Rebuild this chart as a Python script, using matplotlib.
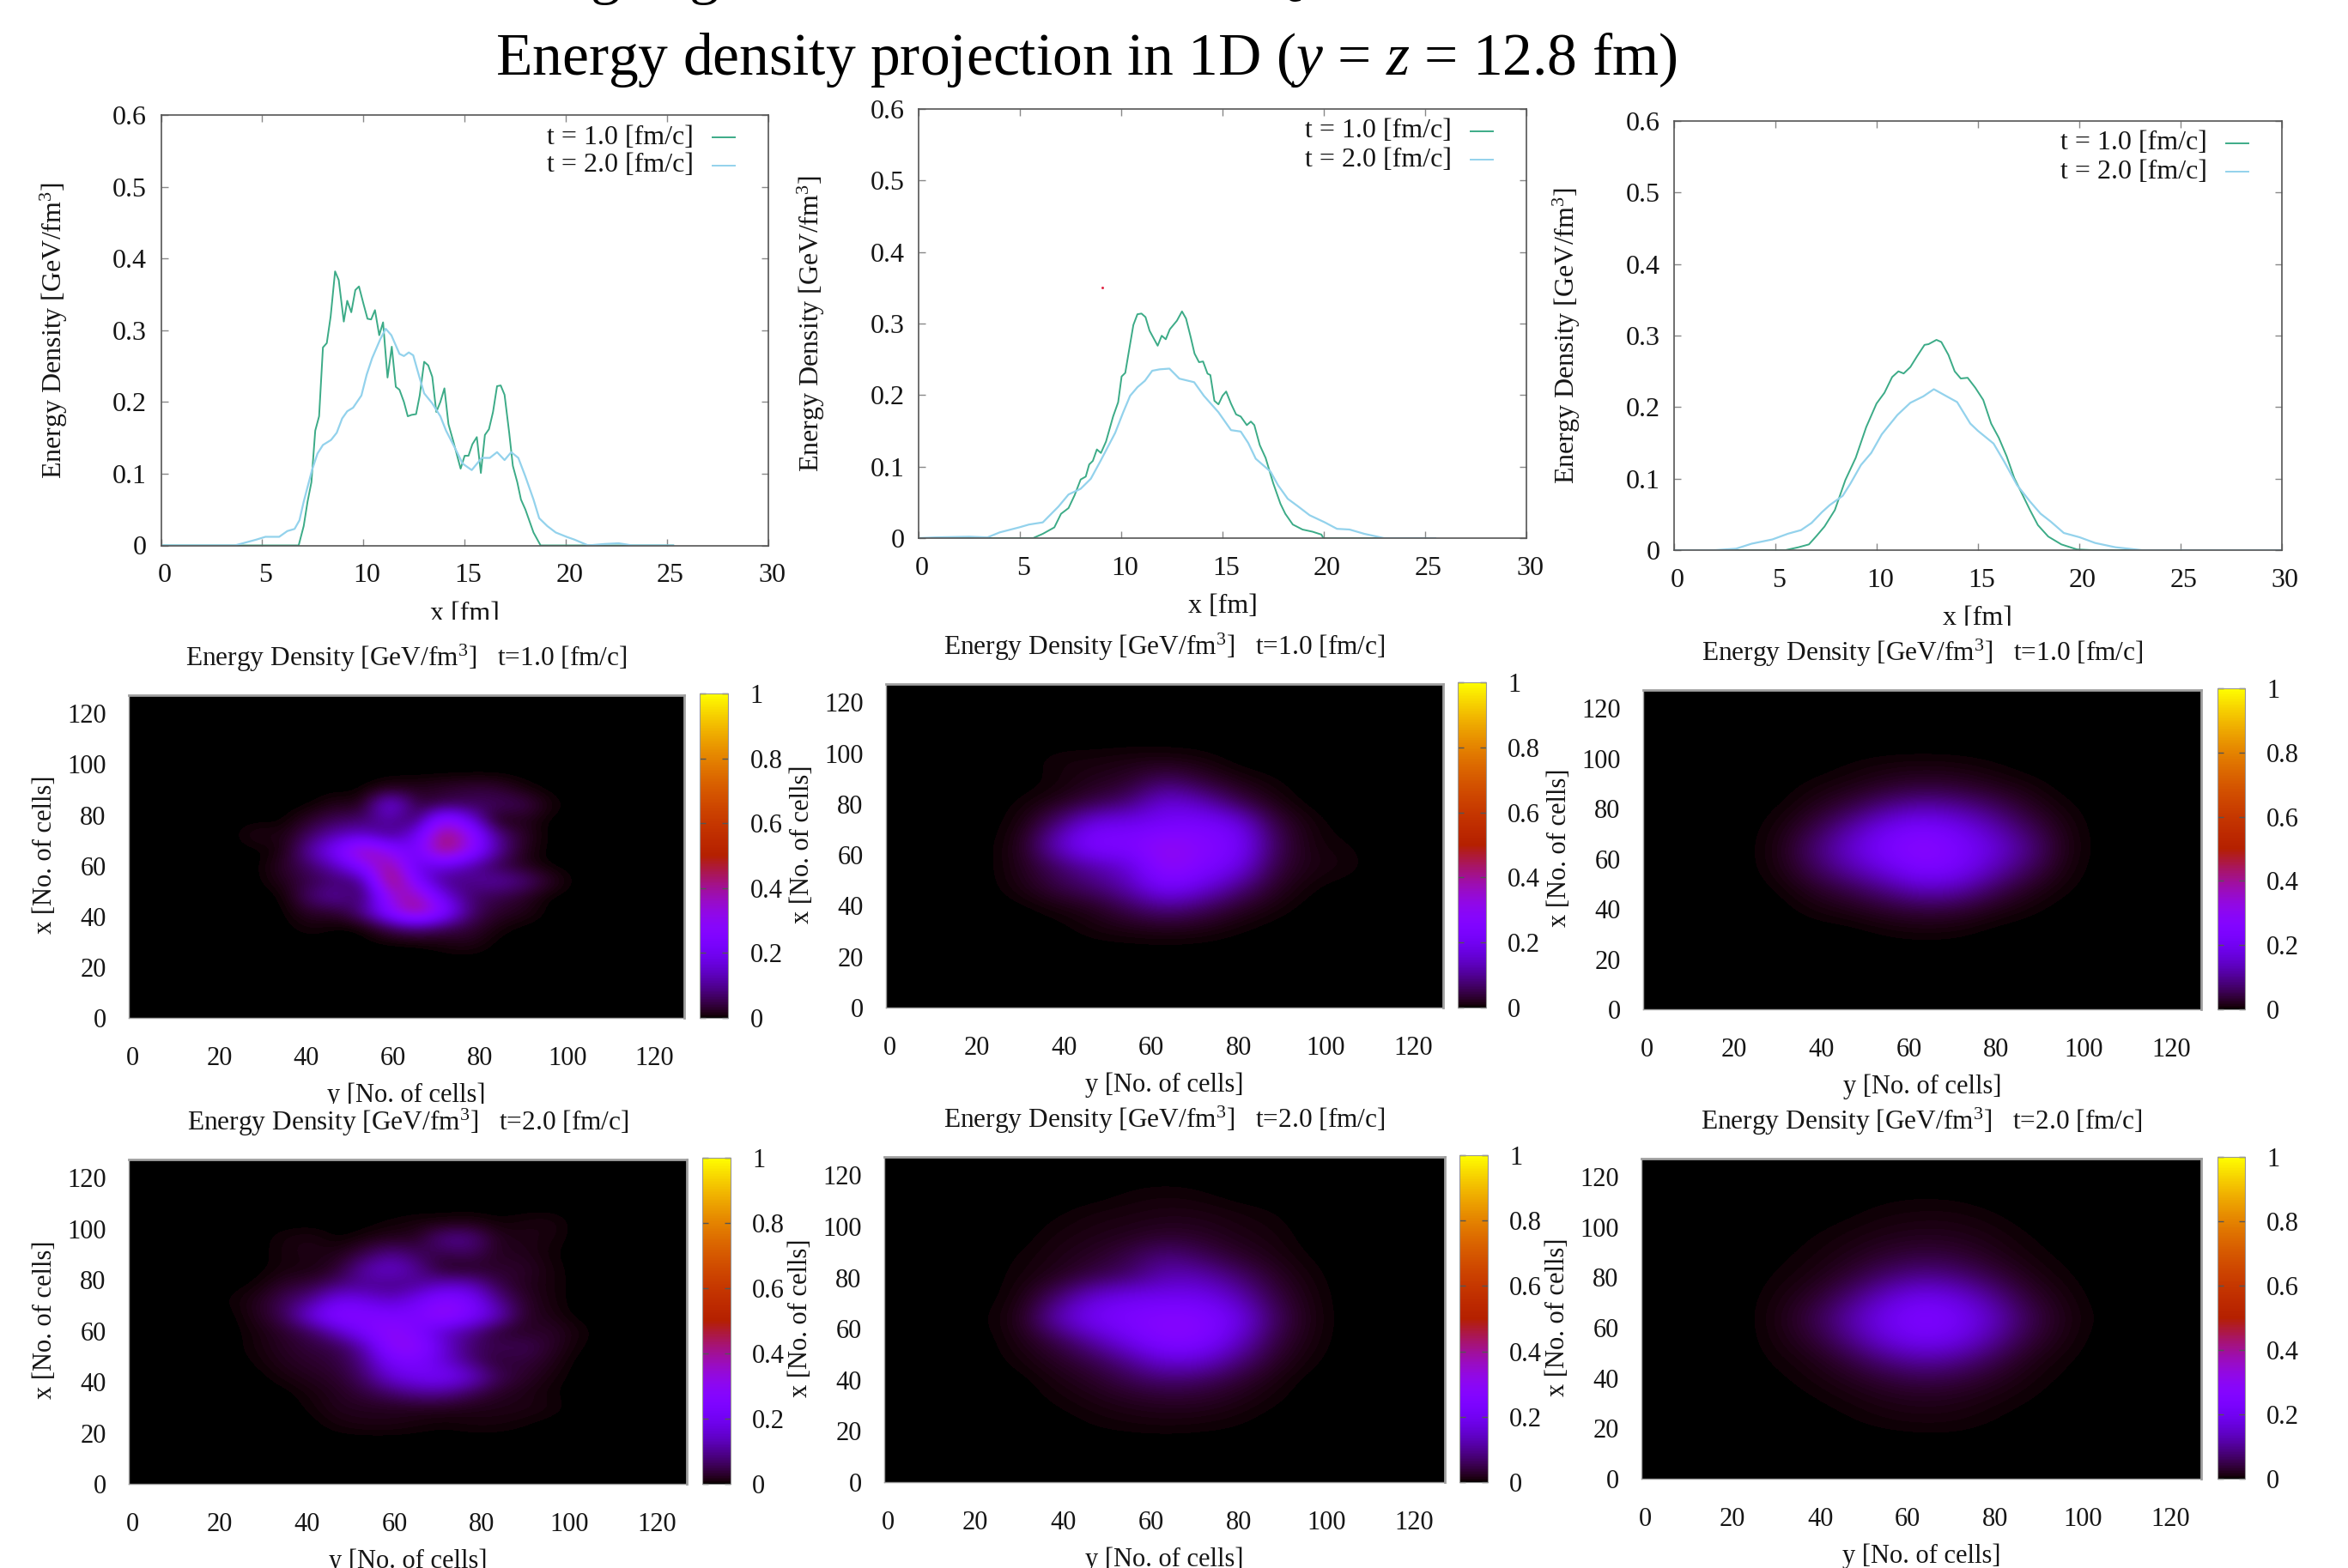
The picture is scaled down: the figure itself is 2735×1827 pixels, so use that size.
import numpy as np
import matplotlib
matplotlib.use("Agg")
import matplotlib.pyplot as plt
from matplotlib.transforms import Bbox, ScaledTranslation

plt.rcParams['font.family'] = ['Liberation Serif', 'DejaVu Serif']
plt.rcParams['mathtext.fontset'] = 'custom'
plt.rcParams['mathtext.rm'] = 'Liberation Serif'
plt.rcParams['mathtext.it'] = 'Liberation Serif:italic'
plt.rcParams['mathtext.bf'] = 'Liberation Serif:bold'

W, H = 2735, 1827
DPI = 100

main_title = 'Energy density projection in 1D ($y$ = $z$ = 12.8 fm)'
legend_labels = ['t = 1.0 [fm/c]', 't = 2.0 [fm/c]']
line_xticks = [0, 5, 10, 15, 20, 25, 30]
line_yticks = [0, 0.1, 0.2, 0.3, 0.4, 0.5, 0.6]
line_yticklabels = ['0', '0.1', '0.2', '0.3', '0.4', '0.5', '0.6']
cell_ticks = [0, 20, 40, 60, 80, 100, 120]
cb_ticks = [0, 0.2, 0.4, 0.6, 0.8, 1]
cb_ticklabels = ['0', '0.2', '0.4', '0.6', '0.8', '1']

# ---------- 1D projections: (x [fm], energy density) ----------
p1_x1 = [0, 6.8, 7.05, 7.24, 7.43, 7.62, 7.81, 8.0, 8.19, 8.38, 8.6, 8.78, 9.03, 9.2, 9.4, 9.6, 9.78, 10.0, 10.2, 10.38, 10.57, 10.78, 10.97, 11.19, 11.4, 11.6, 11.78, 12.0, 12.19, 12.38, 12.6, 12.78, 13.0, 13.2, 13.4, 13.6, 13.8, 14.0, 14.2, 14.43, 14.8, 15.0, 15.19, 15.38, 15.6, 15.8, 16.0, 16.2, 16.4, 16.6, 16.78, 16.97, 17.2, 17.38, 17.6, 17.78, 18.0, 18.4, 18.75, 25.3]
p1_y1 = [0, 0, .027, .061, .088, .16, .18, .276, .282, .319, .382, .37, .312, .341, .325, .356, .361, .337, .316, .315, .328, .293, .311, .234, .277, .221, .217, .2, .18, .182, .183, .209, .256, .251, .235, .186, .2, .219, .169, .146, .107, .125, .125, .141, .151, .101, .154, .162, .186, .222, .223, .21, .157, .111, .088, .064, .05, .018, 0, 0]
p1_x2 = [0, 3.65, 4.7, 5.16, 5.84, 6.24, 6.6, 6.84, 7.05, 7.46, 7.73, 8.0, 8.4, 8.68, 8.95, 9.2, 9.49, 9.9, 10.16, 10.43, 10.84, 11.1, 11.38, 11.78, 12.0, 12.24, 12.46, 12.73, 13.0, 13.4, 13.8, 14.08, 14.5, 14.9, 15.35, 15.84, 16.24, 16.6, 16.97, 17.3, 17.65, 18.0, 18.4, 18.68, 19.08, 19.5, 20.03, 20.43, 21.1, 21.92, 22.6, 23.27, 25.3]
p1_y2 = [0, 0, .008, .012, .012, .02, .023, .035, .061, .105, .128, .14, .147, .157, .177, .187, .192, .209, .238, .261, .288, .302, .293, .267, .264, .269, .265, .238, .212, .198, .18, .16, .137, .114, .105, .122, .122, .13, .119, .13, .122, .096, .064, .038, .027, .018, .012, .008, 0, .002, .003, 0, 0]

p2_x1 = [0, 5.65, 6.13, 6.7, 7.03, 7.4, 7.7, 8.0, 8.25, 8.42, 8.6, 8.8, 9.0, 9.25, 9.6, 9.85, 10.02, 10.2, 10.36, 10.6, 10.8, 11.0, 11.2, 11.4, 11.8, 12.0, 12.2, 12.4, 12.75, 13.0, 13.2, 13.43, 13.62, 13.84, 14.04, 14.26, 14.4, 14.6, 14.8, 15.0, 15.18, 15.42, 15.67, 15.9, 16.2, 16.4, 16.57, 16.84, 17.13, 17.5, 17.86, 18.1, 18.47, 18.95, 19.44, 19.88, 19.98, 25.5]
p2_y1 = [0, 0, .006, .015, .034, .042, .06, .082, .086, .103, .108, .124, .119, .135, .17, .19, .226, .231, .258, .298, .313, .314, .309, .29, .269, .283, .278, .292, .304, .317, .307, .281, .258, .246, .247, .23, .228, .192, .187, .199, .205, .188, .173, .17, .158, .163, .158, .13, .112, .077, .048, .034, .019, .012, .009, .005, 0, 0]
p2_x2 = [0, .83, 2.5, 3.4, 4.0, 4.96, 5.45, 6.13, 6.55, 6.9, 7.4, 8.0, 8.5, 9.0, 9.7, 10.1, 10.44, 10.8, 11.17, 11.53, 11.9, 12.38, 12.87, 13.6, 14.08, 14.8, 15.42, 15.9, 16.27, 16.64, 17.37, 17.74, 18.22, 18.7, 19.3, 20.05, 20.65, 21.27, 22.0, 22.97, 25.5]
p2_y2 = [0, .001, .002, .001, .008, .015, .019, .022, .034, .044, .061, .069, .083, .109, .147, .176, .199, .211, .22, .234, .236, .237, .223, .218, .199, .176, .151, .149, .133, .111, .093, .074, .055, .045, .032, .022, .013, .012, .006, 0, 0]

p3_x1 = [0, 5.5, 6.14, 6.66, 7.04, 7.43, 7.94, 8.46, 8.97, 9.49, 10.0, 10.39, 10.77, 11.08, 11.34, 11.67, 12.0, 12.37, 12.57, 12.96, 13.2, 13.55, 13.86, 14.16, 14.5, 14.88, 15.27, 15.66, 16.04, 16.43, 16.8, 17.2, 17.58, 17.97, 18.48, 19.13, 19.9, 20.67, 30]
p3_y1 = [0, 0, .004, .008, .02, .033, .056, .098, .129, .172, .205, .22, .242, .25, .247, .256, .271, .287, .288, .294, .291, .273, .25, .24, .241, .227, .21, .177, .157, .131, .101, .078, .056, .035, .019, .008, .001, 0, 0]
p3_x2 = [0, 2.03, 3.06, 3.83, 4.86, 5.63, 6.27, 6.79, 7.3, 7.69, 8.33, 8.71, 9.23, 9.74, 10.26, 11.03, 11.67, 12.31, 12.83, 13.34, 13.98, 14.63, 15.0, 15.78, 16.3, 16.94, 17.58, 18.1, 18.6, 19.25, 20.03, 20.8, 21.8, 23.1, 30]
p3_y2 = [0, 0, .002, .009, .015, .023, .028, .038, .053, .063, .076, .093, .119, .136, .162, .189, .206, .215, .225, .217, .207, .177, .167, .149, .124, .091, .068, .051, .04, .024, .018, .01, .004, 0, 0]

# ---------- Heat maps: value at grid nodes [No. of cells] ----------
grid6_cols = list(range(24, 109, 6))   # y
grid8_cols = list(range(16, 113, 8))   # y

h1_rows = [90, 84, 78, 72, 66, 60, 54, 48, 42, 36, 30]
#          24   30   36   42   48   54   60   66   72   78   84   90   96  102  108
h1_vals = [
    [0,   0,   0,   0,   0,   0,   .02, .02, .03, .04, .04, .01, 0,   0,   0],
    [0,   0,   0,   0,   .02, .01, .22, .03, .05, .06, .06, .06, .01, 0,   0],
    [0,   0,   0,   .03, .06, .07, .12, .04, .33, .2,  0,   .02, 0,   0,   0],
    [0,   .02, .01, .07, .13, .15, .08, .18, .46, .34, .1,  .03, 0,   0,   0],
    [0,   0,   .01, .12, .24, .42, .28, .2,  .46, .32, .12, .02, 0,   0,   0],
    [0,   0,   .03, .07, .14, .27, .44, .16, .18, .12, .05, .02, 0,   0,   0],
    [0,   0,   .02, .05, .07, .08, .5,  .24, .08, .09, .12, .09, .03, 0,   0],
    [0,   0,   0,   .08, .12, .04, .34, .4,  .18, .07, .05, .03, 0,   0,   0],
    [0,   0,   0,   .03, .03, .1,  .28, .44, .28, .08, .03, .02, 0,   0,   0],
    [0,   0,   0,   .01, 0,   0,   .06, .1,  .06, .04, .01, 0,   0,   0,   0],
    [0,   0,   0,   0,   0,   0,   0,   0,   .01, .02, 0,   0,   0,   0,   0],
]

h4_rows = [102, 96, 90, 84, 78, 72, 66, 60, 54, 48, 42, 36, 30, 24]
#          24   30   36   42   48   54   60   66   72   78   84   90   96  102  108
h4_vals = [
    [0,   0,   0,   0,   0,   0,   .005,.01, .01, .015,.005,.01, .015,0,   0],
    [0,   0,   .01, .015,0,   .01, .02, .02, .1,  .1,  .02, .015,.01, 0,   0],
    [0,   0,   .01, .015,.015,.05, .1,  .06, .04, .06, .02, .02, .005,0,   0],
    [0,   0,   .01, .01, .03, .12, .16, .1,  .02, .02, .03, .03, .01, 0,   0],
    [0,   .005,.03, .04, .08, .1,  .08, .1,  .14, .14, .05, .02, .01, 0,   0],
    [.005,.02, .06, .1,  .2,  .18, .14, .2,  .28, .24, .1,  .03, .01, 0,   0],
    [0,   .02, .06, .18, .28, .26, .24, .24, .32, .24, .15, .03, .015,0,   0],
    [0,   .01, .03, .06, .14, .24, .3,  .24, .14, .1,  .03, .02, .03, .01, 0],
    [0,   .01, .025,.04, .05, .12, .3,  .3,  .16, .07, .05, .06, .03, .005,0],
    [0,   .005,.02, .03, .04, .09, .22, .24, .16, .08, .03, .04, .02, 0,   0],
    [0,   0,   .01, .02, .03, .07, .16, .2,  .22, .16, .06, .03, .01, 0,   0],
    [0,   0,   0,   .01, .02, .04, .07, .1,  .1,  .06, .025,.015,.005,0,   0],
    [0,   0,   0,   .005,.02, .02, .02, .02, .02, .015,.015,.015,.01, 0,   0],
    [0,   0,   0,   0,   .01, .015,.015,.01, .005,.01, .01, .005,0,   0,   0],
]

h2_rows = [96, 88, 80, 72, 64, 56, 48, 40, 32]
#          16  24   32    40   48   56   64   72   80   88   96   104  112
h2_vals = [
    [0,  0,   0,    .01, .01, .015,.015,.01, 0,   0,   0,   0,   0],
    [0,  0,   0,    .005,.02, .03, .08, .04, .015,.005,0,   0,   0],
    [0,  0,   .005, .02, .05, .08, .18, .14, .06, .015,0,   0,   0],
    [0,  0,   .01,  .09, .2,  .2,  .22, .24, .2,  .05, .01, 0,   0],
    [0,  0,   .02,  .16, .27, .25, .32, .27, .24, .07, .01, .005,0],
    [0,  0,   .02,  .07, .12, .16, .32, .26, .2,  .05, .015,.01, 0],
    [0,  0,   .015, .05, .08, .13, .24, .18, .1,  .03, .005,0,   0],
    [0,  0,   0,    .01, .02, .06, .1,  .07, .03, .01, 0,   0,   0],
    [0,  0,   0,    0,   .01, .015,.02, .015,.005,0,   0,   0,   0],
]

h3_rows = [96, 88, 80, 72, 64, 56, 48, 40, 32]
h3_vals = [
    [0,  0,   0,    0,   .005,.01, .012,.01, .005,0,   0,   0,   0],
    [0,  0,   0,    .008,.015,.03, .04, .035,.02, .01, 0,   0,   0],
    [0,  0,   .003, .02, .05, .1,  .13, .11, .07, .025,.006,0,   0],
    [0,  0,   .01,  .05, .12, .2,  .24, .2,  .13, .06, .012,0,   0],
    [0,  0,   .015, .08, .16, .24, .29, .24, .17, .09, .015,0,   0],
    [0,  0,   .012, .06, .12, .18, .25, .22, .13, .06, .01, 0,   0],
    [0,  0,   .003, .025,.05, .09, .14, .12, .06, .02, .004,0,   0],
    [0,  0,   0,    .008,.015,.03, .04, .035,.015,.005,0,   0,   0],
    [0,  0,   0,    0,   0,   .005,.008,.006,0,   0,   0,   0,   0],
]

h5_rows = [112, 104, 96, 88, 80, 72, 64, 56, 48, 40, 32, 24]
h5_vals = [
    [0,  0,   0,    0,   0,   .005,.008,.005,0,   0,   0,   0,   0],
    [0,  0,   0,    .003,.01, .012,.015,.015,.01, .005,0,   0,   0],
    [0,  0,   0,    .01, .015,.02, .03, .025,.015,.01, 0,   0,   0],
    [0,  0,   .005, .015,.025,.05, .09, .06, .03, .015,.003,0,   0],
    [0,  0,   .008, .02, .05, .07, .13, .13, .08, .03, .008,0,   0],
    [0,  0,   .012, .08, .17, .2,  .2,  .2,  .14, .05, .012,0,   0],
    [0,  .003,.02,  .14, .22, .25, .28, .27, .2,  .07, .015,0,   0],
    [0,  0,   .015, .05, .12, .2,  .27, .26, .16, .05, .012,0,   0],
    [0,  0,   .008, .025,.05, .1,  .17, .16, .09, .03, .006,0,   0],
    [0,  0,   0,    .012,.025,.05, .07, .06, .035,.012,0,   0,   0],
    [0,  0,   0,    .005,.012,.02, .025,.025,.015,.005,0,   0,   0],
    [0,  0,   0,    0,   .005,.008,.01, .008,.005,0,   0,   0,   0],
]

h6_rows = [112, 104, 96, 88, 80, 72, 64, 56, 48, 40, 32, 24, 16]
h6_vals = [
    [0,  0,   0,    0,   0,   .002,.003,.002,0,   0,   0,   0,   0],
    [0,  0,   0,    0,   .003,.008,.01, .01, .005,0,   0,   0,   0],
    [0,  0,   0,    .004,.01, .016,.02, .018,.012,.004,0,   0,   0],
    [0,  0,   .002, .008,.018,.034,.045,.038,.02, .008,.002,0,   0],
    [0,  0,   .005, .014,.037,.075,.1,  .085,.047,.017,.005,0,   0],
    [0,  0,   .01,  .03, .08, .15, .2,  .17, .1,  .035,.011,0,   0],
    [0,  0,   .014, .05, .12, .2,  .25, .22, .14, .055,.015,.002,0],
    [0,  0,   .011, .035,.095,.17, .215,.19, .11, .04, .012,0,   0],
    [0,  0,   .006, .016,.045,.09, .12, .1,  .055,.018,.005,0,   0],
    [0,  0,   .002, .009,.02, .037,.05, .042,.024,.009,.002,0,   0],
    [0,  0,   0,    .003,.009,.016,.02, .017,.01, .004,0,   0,   0],
    [0,  0,   0,    0,   .003,.008,.01, .009,.004,0,   0,   0,   0],
    [0,  0,   0,    0,   0,   0,   .001,.001,0,   0,   0,   0,   0],
]

# ---------- Layout in reference pixels (left, right, top, bottom) ----------
line_boxes = [(187.5, 895, 134, 635.5), (1070, 1778, 127, 627), (1950, 2657.5, 141, 641)]
line_xlabel_clip = [722, None, 729]
line_series = [(p1_x1, p1_y1, p1_x2, p1_y2), (p2_x1, p2_y1, p2_x2, p2_y2), (p3_x1, p3_y1, p3_x2, p3_y2)]
heat_boxes = [(150, 797, 810, 1186), (1032, 1681, 797, 1174), (1914, 2564, 804, 1176),
              (150, 800, 1351, 1729), (1030, 1683, 1348, 1727), (1912, 2564, 1350, 1723)]
cbar_x = [(815, 848.5), (1698, 1731), (2582.5, 2615), (818, 851), (1700, 1733), (2582.5, 2615)]
heat_titles = ['t=1.0', 't=1.0', 't=1.0', 't=2.0', 't=2.0', 't=2.0']
heat_xclip = [1286, None, None, None, None, None]
heat_data = [(h1_rows, grid6_cols, h1_vals, 6), (h2_rows, grid8_cols, h2_vals, 8), (h3_rows, grid8_cols, h3_vals, 8),
             (h4_rows, grid6_cols, h4_vals, 6), (h5_rows, grid8_cols, h5_vals, 8), (h6_rows, grid8_cols, h6_vals, 8)]

GREEN = '#3cab87'
BLUE = '#93d2ec'
TXT = '#151515'
FS = 23
FS_HEAT = 22


def add_axes(fig, l, r, t, b):
    return fig.add_axes([l / W, 1 - b / H, (r - l) / W, (b - t) / H])


def fx(x):
    return x / W


def fy(y):
    return 1 - y / H


def clip_below(text, ypx):
    text.set_clip_box(Bbox([[0, H - ypx], [W, H]]))
    text.set_clip_on(True)


fig = plt.figure(figsize=(W / DPI, H / DPI), dpi=DPI, facecolor='white')
fig.text(fx(1265), fy(70), main_title, ha='center', va='center', fontsize=50, color='black')
for gx, glyph in [(705, 'g'), (820, 'g'), (1490, 'Q')]:
    fig.text(fx(gx), fy(-9), glyph, ha='center', va='baseline', fontsize=50, color='black')

shift = ScaledTranslation(4 / DPI, 0, fig.dpi_scale_trans)

for box, series, clip in zip(line_boxes, line_series, line_xlabel_clip):
    l, r, t, b = box
    ax = add_axes(fig, l, r, t, b)
    ax.plot(series[0], series[1], color=GREEN, lw=1.4, label=legend_labels[0])
    ax.plot(series[2], series[3], color=BLUE, lw=1.6, label=legend_labels[1])
    ax.set_xlim(0, 30)
    ax.set_ylim(0, 0.6)
    ax.set_xticks(line_xticks)
    ax.set_yticks(line_yticks)
    ax.set_yticklabels(line_yticklabels)
    ax.tick_params(axis='both', direction='in', top=True, right=True, length=5.5, width=1, color='#888888',
                   labelsize=FS, labelcolor=TXT)
    ax.tick_params(axis='x', pad=15)
    ax.tick_params(axis='y', pad=12)
    for lab in ax.get_xticklabels():
        lab.set_transform(lab.get_transform() + shift)
    for s in ax.spines.values():
        s.set_color('#555555')
        s.set_linewidth(1.2)
    ax.set_xlabel('x [fm]', fontsize=FS, color=TXT)
    ax.xaxis.set_label_coords(fx((l + r) / 2), fy(b + 80), transform=fig.transFigure)
    ax.xaxis.label.set_va('center')
    if clip:
        clip_below(ax.xaxis.label, clip)
    ax.set_ylabel('Energy Density [GeV/fm$^3$]', fontsize=FS, color=TXT)
    ax.yaxis.set_label_coords(fx(l - 125), fy((t + b) / 2), transform=fig.transFigure)
    ax.yaxis.label.set_va('center')
    for i, (lab, col) in enumerate(zip(legend_labels, (GREEN, BLUE))):
        ypx = t + 26 + 33 * i
        ax.text(fx(r - 87), fy(ypx), lab, transform=fig.transFigure, ha='right', va='center', fontsize=FS, color=TXT)
        ax.plot([fx(r - 65), fx(r - 39)], [fy(ypx), fy(ypx)], transform=fig.transFigure, color=col, lw=1.4)
    if box is line_boxes[1]:
        ax.plot([9.05], [0.35], marker='s', ms=1.0, color='#e02040', ls='none')

for k, (box, cb, (rows, cols, vals, step)) in enumerate(zip(heat_boxes, cbar_x, heat_data)):
    l, r, t, b = box
    nodes = np.arange(0, 128 + step, step)
    grid = np.zeros((len(nodes), len(nodes)))
    for xv, row in zip(rows, vals):
        for yv, v in zip(cols, row):
            grid[xv // step, yv // step] = v
    ax = add_axes(fig, l, r, t, b)
    im = ax.imshow(grid, origin='lower', aspect='auto', cmap='gnuplot', vmin=0, vmax=1, interpolation='bicubic',
                   extent=(-step / 2, nodes[-1] + step / 2, -step / 2, nodes[-1] + step / 2))
    ax.set_xlim(0, 127.7)
    ax.set_ylim(0, 127.2)
    ax.set_xticks(cell_ticks)
    ax.set_yticks(cell_ticks)
    ax.tick_params(axis='both', length=0, labelsize=FS_HEAT, labelcolor=TXT)
    ax.tick_params(axis='x', pad=24)
    ax.tick_params(axis='y', pad=19)
    for lab in ax.get_xticklabels():
        lab.set_transform(lab.get_transform() + shift)
    for name, s in ax.spines.items():
        s.set_color('#a0a0a0')
        s.set_linewidth(2.0 if name in ('top', 'right') else 1.0)
    ax.set_xlabel('y [No. of cells]', fontsize=FS_HEAT, color=TXT)
    ax.xaxis.set_label_coords(fx((l + r) / 2), fy(b + 90), transform=fig.transFigure)
    ax.xaxis.label.set_va('center')
    if heat_xclip[k]:
        clip_below(ax.xaxis.label, heat_xclip[k])
    ax.set_ylabel('x [No. of cells]', fontsize=FS_HEAT, color=TXT)
    ax.yaxis.set_label_coords(fx(l - 97), fy((t + b) / 2 - 2), transform=fig.transFigure)
    ax.yaxis.label.set_va('center')
    ax.text(fx((l + r) / 2), fy(t - 43), 'Energy Density [GeV/fm$^3$]   ' + heat_titles[k] + ' [fm/c]',
            transform=fig.transFigure, ha='center', va='center', fontsize=22.6, color=TXT)

    cax = add_axes(fig, cb[0], cb[1], t - 2, b)
    cbar = fig.colorbar(im, cax=cax, ticks=cb_ticks)
    cbar.ax.set_yticklabels(cb_ticklabels)
    cbar.ax.tick_params(axis='y', direction='in', left=True, right=True, length=5, width=1, color='#555555',
                        pad=18, labelsize=FS_HEAT, labelcolor=TXT)
    cbar.outline.set_edgecolor('#999999')
    cbar.outline.set_linewidth(0.8)

fig.savefig('out.png', dpi=DPI, facecolor='white')
